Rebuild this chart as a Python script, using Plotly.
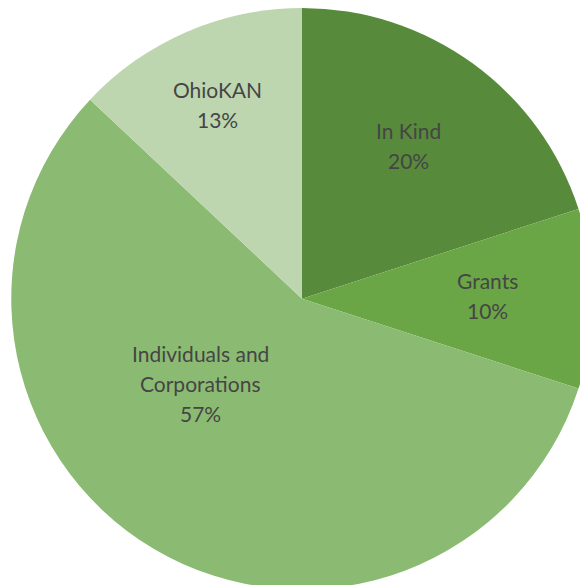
import math
import plotly.graph_objects as go

categories = ["In Kind", "Grants", "Individuals and Corporations", "OhioKAN"]
label_lines = [["In Kind"], ["Grants"], ["Individuals and", "Corporations"], ["OhioKAN"]]
values = [20, 10, 57, 13]
colors = ["#578a3a", "#6aa645", "#8bbb72", "#bed6b0"]

W, H = 588, 585
R = 289  # approx rendered pie radius in px

# label placement style: radial fraction and angle nudge (degrees) per slice
label_radius = [0.64, 0.65, 0.46, 0.72]
label_angle_nudge = [0, 0, 18, 0]
line_gap = 30
label_lift = 5

fig = go.Figure(go.Pie(
    labels=categories,
    values=values,
    sort=False,
    direction="clockwise",
    rotation=0,
    marker=dict(colors=colors, line=dict(width=0)),
    textinfo="none",
    showlegend=False,
    hoverinfo="label+percent",
    domain=dict(x=[0, 1], y=[0.006, 1]),
))

total = sum(values)
cum = 0
for i, v in enumerate(values):
    mid = (cum + v / 2) / total * 360 + label_angle_nudge[i]
    cum += v
    a = math.radians(mid)
    px = 0.5 + label_radius[i] * R * math.sin(a) / W
    py = 0.5 + label_radius[i] * R * math.cos(a) / H
    lines = label_lines[i] + [f"{round(v / total * 100)}%"]
    n = len(lines)
    for j, t in enumerate(lines):
        fig.add_annotation(
            x=px, y=py, xref="paper", yref="paper",
            xanchor="center", yanchor="middle",
            text=t, showarrow=False,
            xshift=-2,
            yshift=((n - 1) / 2 - j) * line_gap + label_lift,
            font=dict(family="Lato, Open Sans, sans-serif", size=21, color="#454545"),
        )

fig.update_layout(
    width=W, height=H,
    margin=dict(l=0, r=0, t=0, b=0),
    paper_bgcolor="white",
    plot_bgcolor="white",
)

fig.write_html("out.html")
